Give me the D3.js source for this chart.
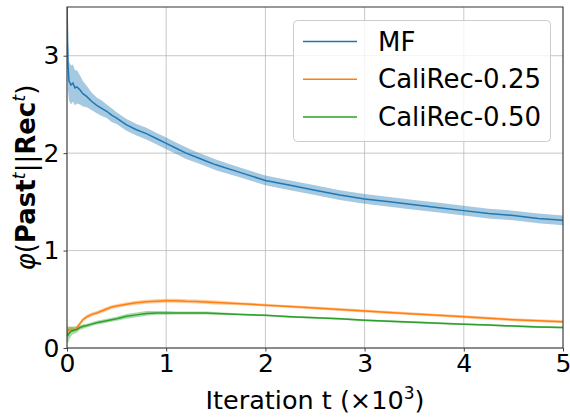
<!DOCTYPE html>
<html><head><meta charset="utf-8">
<script src="https://cdn.jsdelivr.net/npm/d3@7"></script>
<style>body{margin:0;background:#fff}svg{font-family:"DejaVu Sans",sans-serif}</style>
</head><body>
<svg id="c" width="570" height="418"></svg>
<script>
const iterations = [0, 0.005, 0.01, 0.02, 0.04, 0.06, 0.08, 0.1, 0.13, 0.16, 0.2, 0.25, 0.3, 0.35, 0.4, 0.45, 0.5, 0.6, 0.7, 0.8, 0.9, 1.0, 1.1, 1.2, 1.3, 1.4, 1.5, 1.75, 2.0, 2.25, 2.5, 2.75, 3.0, 3.25, 3.5, 3.75, 4.0, 4.25, 4.5, 4.75, 5.0];
const mfMean = [3.6, 3.2, 2.9, 2.74, 2.7, 2.72, 2.67, 2.68, 2.65, 2.61, 2.58, 2.53, 2.49, 2.46, 2.43, 2.39, 2.36, 2.29, 2.24, 2.2, 2.15, 2.1, 2.05, 2.0, 1.96, 1.92, 1.88, 1.80, 1.72, 1.67, 1.62, 1.57, 1.53, 1.50, 1.47, 1.44, 1.41, 1.38, 1.36, 1.33, 1.31];
const mfSpread = [0.3, 0.28, 0.25, 0.2, 0.2, 0.19, 0.18, 0.17, 0.15, 0.13, 0.11, 0.09, 0.08, 0.08, 0.07, 0.07, 0.06, 0.06, 0.06, 0.06, 0.06, 0.06, 0.06, 0.06, 0.055, 0.055, 0.055, 0.05, 0.05, 0.05, 0.05, 0.05, 0.05, 0.05, 0.05, 0.05, 0.05, 0.05, 0.05, 0.05, 0.05];
const cr25Mean = [0.17, 0.18, 0.19, 0.185, 0.19, 0.19, 0.19, 0.21, 0.25, 0.29, 0.32, 0.345, 0.36, 0.38, 0.4, 0.42, 0.43, 0.45, 0.465, 0.475, 0.48, 0.485, 0.485, 0.48, 0.478, 0.472, 0.467, 0.455, 0.44, 0.425, 0.41, 0.395, 0.38, 0.365, 0.35, 0.335, 0.32, 0.305, 0.29, 0.28, 0.27];
const cr25Spread = [0.03, 0.03, 0.03, 0.03, 0.025, 0.025, 0.02, 0.02, 0.02, 0.02, 0.02, 0.02, 0.02, 0.02, 0.02, 0.02, 0.02, 0.02, 0.02, 0.02, 0.02, 0.02, 0.02, 0.02, 0.02, 0.02, 0.02, 0.015, 0.015, 0.015, 0.015, 0.015, 0.015, 0.015, 0.015, 0.015, 0.015, 0.015, 0.015, 0.015, 0.015];
const cr50Mean = [0.16, 0.14, 0.13, 0.15, 0.17, 0.18, 0.185, 0.19, 0.21, 0.22, 0.23, 0.245, 0.26, 0.27, 0.28, 0.29, 0.30, 0.325, 0.34, 0.355, 0.36, 0.36, 0.36, 0.36, 0.36, 0.36, 0.355, 0.345, 0.335, 0.32, 0.31, 0.30, 0.285, 0.275, 0.265, 0.255, 0.245, 0.235, 0.225, 0.215, 0.21];
const cr50Spread = [0.09, 0.09, 0.08, 0.07, 0.05, 0.04, 0.035, 0.03, 0.025, 0.025, 0.02, 0.02, 0.02, 0.02, 0.02, 0.02, 0.02, 0.025, 0.025, 0.025, 0.02, 0.02, 0.015, 0.015, 0.015, 0.015, 0.015, 0.01, 0.01, 0.01, 0.01, 0.01, 0.01, 0.01, 0.01, 0.01, 0.01, 0.01, 0.01, 0.01, 0.01];
const seriesNames = ["MF", "CaliRec-0.25", "CaliRec-0.50"];
const seriesColors = ["#1f77b4", "#ff7f0e", "#2ca02c"];
const xTicks = [0, 1, 2, 3, 4, 5];
const yTicks = [0, 1, 2, 3];

const series = [
  {name: seriesNames[0], color: seriesColors[0], mean: mfMean, spread: mfSpread},
  {name: seriesNames[1], color: seriesColors[1], mean: cr25Mean, spread: cr25Spread},
  {name: seriesNames[2], color: seriesColors[2], mean: cr50Mean, spread: cr50Spread}
];

const svg = d3.select("#c");
const m = {l: 67, r: 563, t: 7, b: 348};
const x = d3.scaleLinear().domain([0, 5]).range([m.l, m.r]);
const y = d3.scaleLinear().domain([0, 3.5]).range([m.b, m.t]);

svg.append("defs").append("clipPath").attr("id", "clip")
  .append("rect").attr("x", m.l).attr("y", m.t).attr("width", m.r - m.l).attr("height", m.b - m.t);

const g = svg.append("g");
g.selectAll(".gx").data(xTicks).join("line")
  .attr("x1", d => x(d)).attr("x2", d => x(d)).attr("y1", m.t).attr("y2", m.b)
  .attr("stroke", "#b0b0b0").attr("stroke-opacity", 0.7).attr("stroke-width", 1);
g.selectAll(".gy").data(yTicks).join("line")
  .attr("y1", d => y(d)).attr("y2", d => y(d)).attr("x1", m.l).attr("x2", m.r)
  .attr("stroke", "#b0b0b0").attr("stroke-opacity", 0.7).attr("stroke-width", 1);

const plot = svg.append("g").attr("clip-path", "url(#clip)");
series.forEach(s => {
  const pts = iterations.map((t, i) => ({t, m: s.mean[i], sd: s.spread[i]}));
  plot.append("path").datum(pts)
    .attr("d", d3.area().x(d => x(d.t)).y0(d => y(d.m - d.sd)).y1(d => y(d.m + d.sd)))
    .attr("fill", s.color).attr("fill-opacity", 0.4).attr("stroke", "none");
});
series.forEach(s => {
  const pts = iterations.map((t, i) => ({t, m: s.mean[i]}));
  plot.append("path").datum(pts)
    .attr("d", d3.line().x(d => x(d.t)).y(d => y(d.m)))
    .attr("fill", "none").attr("stroke", s.color).attr("stroke-width", 1.5);
});

const xa = svg.append("g").attr("transform", `translate(0,${m.b})`)
  .call(d3.axisBottom(x).tickValues(xTicks).tickFormat(d3.format("d")).tickSize(3.5).tickPadding(3));
const ya = svg.append("g").attr("transform", `translate(${m.l},0)`)
  .call(d3.axisLeft(y).tickValues(yTicks).tickFormat(d3.format("d")).tickSize(3.5).tickPadding(4));
[xa, ya].forEach(a => {
  a.select(".domain").remove();
  a.selectAll("line").attr("stroke", "#444");
  a.selectAll("text").attr("font-size", 25).attr("font-family", "DejaVu Sans").attr("fill", "#000");
});

svg.append("rect").attr("x", m.l).attr("y", m.t).attr("width", m.r - m.l).attr("height", m.b - m.t)
  .attr("fill", "none").attr("stroke", "#333").attr("stroke-width", 1);

const xl = svg.append("text").attr("x", (m.l + m.r) / 2).attr("y", 409)
  .attr("text-anchor", "middle").attr("font-size", 25.5);
xl.append("tspan").text("Iteration t (×10");
xl.append("tspan").attr("font-size", 17).attr("dy", -10).text("3");
xl.append("tspan").attr("dy", 10).text(")");

const yl = svg.append("text").attr("transform", `translate(35,${(m.t + m.b) / 2}) rotate(-90)`)
  .attr("text-anchor", "middle").attr("font-size", 26);
yl.append("tspan").attr("font-style", "italic").text("φ");
yl.append("tspan").text("(");
yl.append("tspan").attr("font-weight", "bold").text("Past");
yl.append("tspan").attr("font-style", "italic").attr("font-size", 18).attr("dy", -10).text("t");
yl.append("tspan").attr("dy", 10).text("||");
yl.append("tspan").attr("font-weight", "bold").text("Rec");
yl.append("tspan").attr("font-style", "italic").attr("font-size", 18).attr("dy", -10).text("t");
yl.append("tspan").attr("dy", 10).text(")");

const lg = svg.append("g");
lg.append("rect").attr("x", 293.5).attr("y", 20.5).attr("width", 257).attr("height", 121).attr("rx", 4)
  .attr("fill", "#fff").attr("fill-opacity", 0.8).attr("stroke", "#ccc");
series.forEach((s, i) => {
  const cy = 41.5 + i * 37.7;
  lg.append("line").attr("x1", 303).attr("x2", 357).attr("y1", cy).attr("y2", cy)
    .attr("stroke", s.color).attr("stroke-width", 1.5);
  lg.append("text").attr("x", 378).attr("y", cy + 9).attr("font-size", 26).text(s.name);
});
</script>
</body></html>
